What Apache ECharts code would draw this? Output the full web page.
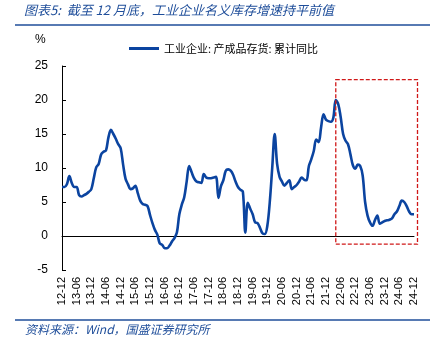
<!DOCTYPE html>
<html><head><meta charset="utf-8">
<script src="https://cdn.jsdelivr.net/npm/echarts@6/dist/echarts.min.js"></script>
<style>html,body{margin:0;padding:0;background:#fff}#c{width:442px;height:348px}</style>
</head><body><div id="c"></div>
<script>
// Categories: monthly, 2012-12 .. 2024-12 (YY-MM)
const categories = [];
for (let i = 0; i <= 144; i++) {
  const t = 2012 * 12 + 11 + i;
  const y = Math.floor(t / 12), m = t % 12 + 1;
  categories.push(String(y % 100).padStart(2, '0') + '-' + String(m).padStart(2, '0'));
}
const seriesName = '工业企业: 产成品存货: 累计同比';
const inventoryYoY = [
  7.2, 7.2, 7.6, 8.8, 7.8, 7.2, 7.2, 6.0, 5.8, 6.0, 6.2, 6.5,
  6.9, 8.5, 10.1, 10.6, 12.0, 12.4, 12.6, 14.5, 15.6, 15.0, 14.3, 13.5,
  12.9, 10.5, 8.4, 7.6, 6.9, 7.0, 7.4, 6.3, 5.2, 4.7, 4.6, 4.4,
  3.1, 1.9, 0.9, 0.2, -1.1, -1.3, -1.8, -1.8, -1.4, -0.8, -0.3, 0.5,
  3.2, 4.6, 5.7, 8.0, 10.3, 9.4, 8.5, 8.0, 7.9, 7.8, 9.1, 8.6,
  8.5, 8.5, 8.6, 8.7, 5.6, 7.3, 8.2, 9.6, 9.8, 9.6, 9.0, 8.0,
  7.2, 6.8, 6.5, 0.5, 4.9, 4.0, 3.2, 2.0, 1.9, 1.2, 0.4, 0.3,
  1.5, 5.0, 10.0, 15.0, 10.6, 8.7, 8.0, 7.4, 7.8, 8.2, 6.9, 7.2,
  7.5, 8.0, 8.6, 8.3, 8.2, 10.3, 11.3, 12.5, 14.2, 13.8, 16.0, 17.9,
  17.1, 16.9, 16.8, 17.4, 20.0, 19.4, 17.5, 15.0, 14.0, 13.5, 12.0, 10.4,
  9.9, 10.5, 10.3, 8.9, 5.0, 3.0, 2.0, 1.5, 2.3, 3.0, 1.8, 2.0,
  2.2, 2.3, 2.4, 2.6, 3.2, 3.6, 4.4, 5.2, 5.0, 4.4, 3.6, 3.2,
  3.2
];
const yTicks = { min: -5, max: 25, interval: 5 };
// Highlight box (data units): from category to just past last, value range
const boxFromCategory = '22-04';
const boxValueTop = 23.0;
const boxValueBottom = -1.2;

const chart = echarts.init(document.getElementById('c'), null, { renderer: 'canvas' });
const titleColor = '#1f4e9a';
const option = {
  animation: false,
  backgroundColor: '#fff',
  grid: { left: 62, right: 28, top: 66, bottom: 78 },
  legend: {
    top: 38, left: 124,
    itemWidth: 30, itemHeight: 3, icon: 'rect', itemGap: 4,
    textStyle: { fontFamily: 'Noto Sans CJK SC', fontSize: 11, color: '#000' },
    data: [seriesName]
  },
  xAxis: {
    type: 'category', data: categories, boundaryGap: false,
    axisLine: { lineStyle: { color: '#000', width: 1 } },
    axisTick: { show: false },
    axisLabel: {
      rotate: 90, margin: 7, color: '#000', fontFamily: 'Liberation Sans', fontSize: 11,
      interval: (idx) => idx % 6 === 0
    }
  },
  yAxis: {
    type: 'value', min: yTicks.min, max: yTicks.max, interval: yTicks.interval,
    splitLine: { show: false },
    axisLine: { show: true, lineStyle: { color: '#000', width: 1 } },
    axisTick: { show: true, inside: true, length: 4, lineStyle: { color: '#000' } },
    axisLabel: { color: '#000', fontFamily: 'Liberation Sans', fontSize: 12, margin: 14 }
  },
  series: [{
    name: seriesName, type: 'line', data: inventoryYoY,
    showSymbol: false, smooth: 0.35,
    lineStyle: { color: '#0b44a0', width: 2.6 },
    itemStyle: { color: '#0b44a0' }
  }],
  graphic: [
    { type: 'text', left: 24, top: 4, style: { text: '图表5:  截至 12 月底，工业企业名义库存增速持平前值', fontFamily: 'Noto Sans CJK SC', fontStyle: 'italic', fontSize: 13, fill: titleColor } },
    { type: 'line', shape: { x1: 15, y1: 25, x2: 430, y2: 25 }, style: { stroke: '#1f4e9a', lineWidth: 1.5 } },
    { type: 'text', left: 35, top: 34, style: { text: '%', fontFamily: 'Liberation Sans', fontSize: 12, fill: '#000' } },
    { type: 'line', shape: { x1: 15, y1: 320, x2: 430, y2: 320 }, style: { stroke: '#1f4e9a', lineWidth: 1.5 } },
    { type: 'text', left: 25, top: 323, style: { text: '资料来源：Wind，国盛证券研究所', fontFamily: 'Noto Sans CJK SC', fontStyle: 'italic', fontSize: 12, fill: titleColor } }
  ]
};
chart.setOption(option);

const pLeftTop = chart.convertToPixel({ gridIndex: 0 }, [boxFromCategory, boxValueTop]);
const pRightBottom = chart.convertToPixel({ gridIndex: 0 }, [categories[categories.length - 1], boxValueBottom]);
const x1 = pLeftTop[0], y1 = pLeftTop[1];
const x2 = pRightBottom[0] + 3.5, y2 = pRightBottom[1];
option.graphic.push({
  type: 'rect', shape: { x: x1, y: y1, width: x2 - x1, height: y2 - y1 },
  style: { fill: 'none', stroke: '#d01818', lineWidth: 1.3, lineDash: [4, 2] }, z: 10
});
chart.setOption({ graphic: option.graphic });
</script>
</body></html>
